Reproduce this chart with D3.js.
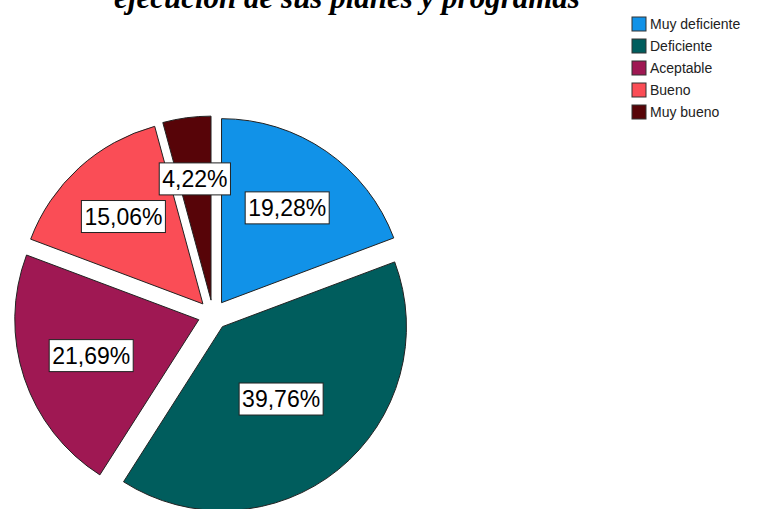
<!DOCTYPE html>
<html>
<head>
<meta charset="utf-8">
<script src="https://cdn.jsdelivr.net/npm/d3@7"></script>
<style>
  body { margin: 0; background: #fff; }
  svg { display: block; }
</style>
</head>
<body>
<div class="chart"></div>
<script>
var svgWidth = 765;
var svgHeight = 509;

// data
var categories = ["Muy deficiente", "Deficiente", "Aceptable", "Bueno", "Muy bueno"];
var percents = [19.28, 39.76, 21.69, 15.06, 4.22];
var colors = ["#1192e8", "#005d5d", "#9f1853", "#fa4d56", "#570408"];
var titleText = "ejecución de sus planes y programas";

var cx = 213, cy = 315;
var radius = 184;
var explode = 15;

var svg = d3.select(".chart")
  .append("svg")
  .attr("width", svgWidth)
  .attr("height", svgHeight);

// title (only its lower line shows, the rest is above the frame)
svg.append("text")
  .attr("x", 347)
  .attr("y", 8)
  .attr("text-anchor", "middle")
  .style("font-family", "'Liberation Serif', 'Times New Roman', serif")
  .style("font-weight", "bold")
  .style("font-style", "italic")
  .style("font-size", "31px")
  .text(titleText);

var rows = categories.map(function(c, i) { return { name: c, value: percents[i], color: colors[i] }; });

var pie = d3.pie().sort(null).value(d => d.value);
var arc = d3.arc().innerRadius(0).outerRadius(radius);

var chartGroup = svg.append("g")
  .attr("transform", `translate(${cx}, ${cy})`);

var slices = chartGroup.selectAll("g.slice")
  .data(pie(rows))
  .enter()
  .append("g")
  .attr("class", "slice")
  .attr("transform", function(d) {
    var mid = (d.startAngle + d.endAngle) / 2;
    return `translate(${Math.sin(mid) * explode}, ${-Math.cos(mid) * explode})`;
  });

slices.append("path")
  .attr("d", arc)
  .attr("fill", d => d.data.color)
  .attr("stroke", "#222")
  .attr("stroke-width", 1);

// labels sit at the area centroid of each sector
slices.each(function(d) {
  var g = d3.select(this);
  var half = (d.endAngle - d.startAngle) / 2;
  var mid = d.startAngle + half;
  var dist = 2 * radius * Math.sin(half) / (3 * half);
  var lx = Math.sin(mid) * dist, ly = -Math.cos(mid) * dist;
  var t = g.append("text")
    .attr("x", lx)
    .attr("y", ly)
    .attr("dy", "0.36em")
    .attr("text-anchor", "middle")
    .style("font-family", "'Liberation Sans', Arial, sans-serif")
    .style("font-size", "23px")
    .attr("fill", "#000")
    .text(d.data.value.toFixed(2).replace(".", ",") + "%");
  var bb = t.node().getBBox();
  g.insert("rect", "text")
    .attr("x", bb.x - 3)
    .attr("y", ly - 16)
    .attr("width", bb.width + 6)
    .attr("height", 32)
    .attr("fill", "#fff")
    .attr("stroke", "#222")
    .attr("stroke-width", 1);
});

// legend
var legend = svg.append("g")
  .attr("transform", "translate(632, 17)");

var items = legend.selectAll("g")
  .data(rows)
  .enter()
  .append("g")
  .attr("transform", (d, i) => `translate(0, ${i * 22})`);

items.append("rect")
  .attr("width", 14)
  .attr("height", 14)
  .attr("fill", d => d.color)
  .attr("stroke", "#333")
  .attr("stroke-width", 1);

items.append("text")
  .attr("x", 18)
  .attr("y", 7)
  .attr("dy", "0.35em")
  .style("font-family", "'Liberation Sans', Arial, sans-serif")
  .style("font-size", "14px")
  .attr("fill", "#222")
  .text(d => d.name);
</script>
</body>
</html>
